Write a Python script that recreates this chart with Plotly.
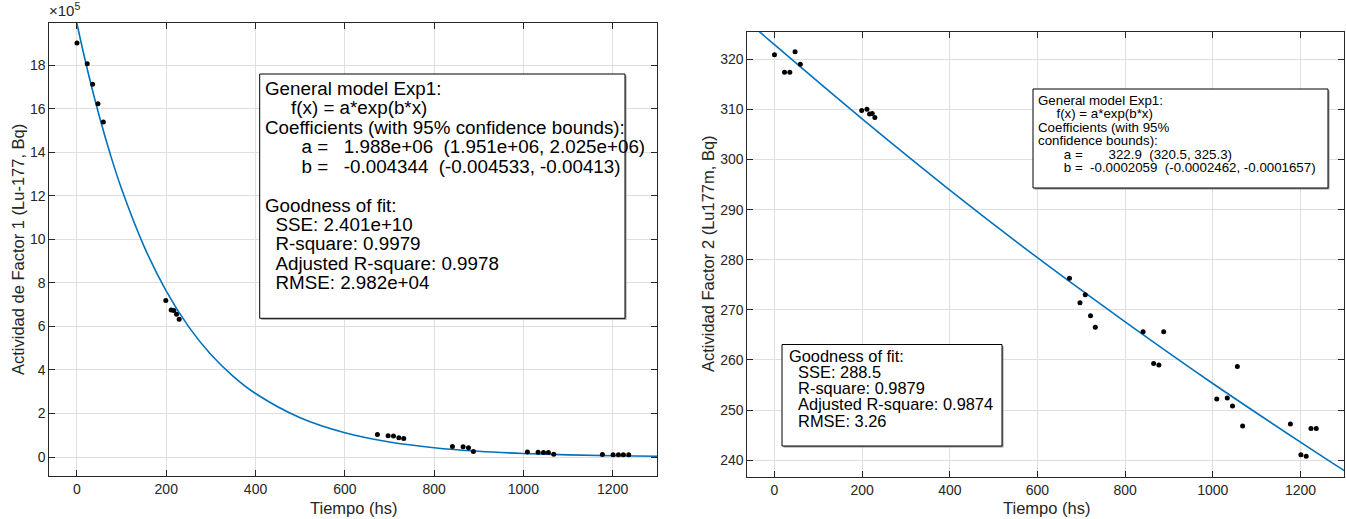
import plotly.graph_objects as go

W, H = 1346, 519
FONT = "Liberation Sans, Arial, Helvetica, sans-serif"
AX = "rgb(38,38,38)"
GRID = "rgb(223,223,223)"
BLUE = "#0072BD"

# ---- data ----
tiempo = [0, 23, 35, 47, 59, 199, 211, 217, 223, 229,
          673, 697, 709, 721, 732, 841, 865, 877, 888,
          1009, 1033, 1045, 1056, 1068, 1177, 1201, 1213, 1224, 1236]

factor1_bq = [19.02e5, 18.06e5, 17.12e5, 16.23e5, 15.39e5,
              7.19e5, 6.76e5, 6.73e5, 6.56e5, 6.33e5,
              1.04e5, 0.98e5, 0.97e5, 0.89e5, 0.85e5,
              0.48e5, 0.47e5, 0.43e5, 0.25e5,
              0.23e5, 0.22e5, 0.21e5, 0.21e5, 0.13e5,
              0.12e5, 0.11e5, 0.11e5, 0.11e5, 0.11e5]

factor2_bq = [320.9, 317.4, 317.4, 321.5, 319.0,
              309.8, 310.0, 309.1, 309.2, 308.4,
              276.3, 271.4, 273.0, 268.8, 266.5,
              265.6, 259.3, 259.0, 265.6,
              252.2, 252.4, 250.8, 258.7, 246.8,
              247.2, 241.1, 240.8, 246.3, 246.3]

# fitted curves as they are drawn in the picture
fit1_t = [-10, 0, 25, 50, 75, 100, 150, 200, 250, 300, 350, 400,
          500, 600, 700, 800, 900, 1000, 1100, 1200, 1300]
fit1_bq = [20.9e5, 19.9e5, 17.65e5, 15.65e5, 13.88e5, 12.31e5, 9.69e5,
           7.62e5, 5.99e5, 4.71e5, 3.71e5, 2.92e5, 1.805e5, 1.117e5,
           0.691e5, 0.428e5, 0.265e5, 0.164e5, 0.101e5, 0.063e5, 0.039e5]

fit2_t = [-62, 0, 200, 400, 600, 800, 1000, 1200, 1300]
fit2_bq = [327.6, 322.9, 308.1, 293.9, 280.4, 267.6, 255.3, 243.6, 237.9]

x_ticks = [0, 200, 400, 600, 800, 1000, 1200]
y1_ticks = [0, 2e5, 4e5, 6e5, 8e5, 10e5, 12e5, 14e5, 16e5, 18e5]
y1_ticklabels = ["0", "2", "4", "6", "8", "10", "12", "14", "16", "18"]
y2_ticks = [240, 250, 260, 270, 280, 290, 300, 310, 320]

box1_lines = ["General model Exp1:",
              "     f(x) = a*exp(b*x)",
              "Coefficients (with 95% confidence bounds):",
              "       a =   1.988e+06  (1.951e+06, 2.025e+06)",
              "       b =   -0.004344  (-0.004533, -0.00413)",
              "",
              "Goodness of fit:",
              "  SSE: 2.401e+10",
              "  R-square: 0.9979",
              "  Adjusted R-square: 0.9978",
              "  RMSE: 2.982e+04"]

box2_lines = ["General model Exp1:",
              "     f(x) = a*exp(b*x)",
              "Coefficients (with 95%",
              "confidence bounds):",
              "       a =       322.9  (320.5, 325.3)",
              "       b =  -0.0002059  (-0.0002462, -0.0001657)"]

box3_lines = ["Goodness of fit:",
              "  SSE: 288.5",
              "  R-square: 0.9879",
              "  Adjusted R-square: 0.9874",
              "  RMSE: 3.26"]

# ---- figure ----
fig = go.Figure()
fig.add_trace(go.Scatter(x=fit1_t, y=fit1_bq, mode="lines", line=dict(color=BLUE, width=1.6, shape="spline"),
                         xaxis="x", yaxis="y", showlegend=False))
fig.add_trace(go.Scatter(x=tiempo, y=factor1_bq, mode="markers", marker=dict(color="black", size=5),
                         xaxis="x", yaxis="y", showlegend=False))
fig.add_trace(go.Scatter(x=fit2_t, y=fit2_bq, mode="lines", line=dict(color=BLUE, width=1.6, shape="spline"),
                         xaxis="x2", yaxis="y2", showlegend=False))
fig.add_trace(go.Scatter(x=tiempo, y=factor2_bq, mode="markers", marker=dict(color="black", size=5),
                         xaxis="x2", yaxis="y2", showlegend=False))

def px_x(v):
    return v / W

def px_y(v):
    return 1 - v / H

axis_common = dict(showline=True, linecolor=AX, linewidth=1, mirror="ticks", ticks="inside",
                   ticklen=6, tickcolor=AX, showgrid=True, gridcolor=GRID, gridwidth=1,
                   zeroline=False, tickfont=dict(family=FONT, size=14, color=AX))

fig.update_layout(
    width=W, height=H, margin=dict(l=0, r=0, t=0, b=0),
    paper_bgcolor="white", plot_bgcolor="white",
    xaxis=dict(domain=[px_x(49.3), px_x(657.3)], range=[-62, 1300], tickvals=x_ticks,
               anchor="y", **axis_common),
    yaxis=dict(domain=[px_y(476), px_y(22.7)], range=[-0.87e5, 19.95e5], tickvals=y1_ticks,
               ticktext=y1_ticklabels, anchor="x", **axis_common),
    xaxis2=dict(domain=[px_x(747.3), px_x(1344.3)], range=[-62, 1300], tickvals=x_ticks,
                anchor="y2", **axis_common),
    yaxis2=dict(domain=[px_y(476.7), px_y(31.7)], range=[236.7, 325.5], tickvals=y2_ticks,
                anchor="x2", **axis_common),
)

shapes = []
annotations = []

def add_box(x0, y0, x1, y1):
    # soft shadow on the right/bottom edge, then the white box itself
    shapes.append(dict(type="rect", xref="paper", yref="paper", x0=px_x(x0 + 1.5), x1=px_x(x1 + 1.5),
                       y0=px_y(y1 + 1.5), y1=px_y(y0 + 1.5), line=dict(width=0),
                       fillcolor="rgb(150,150,150)", layer="above"))
    shapes.append(dict(type="rect", xref="paper", yref="paper", x0=px_x(x0), x1=px_x(x1),
                       y0=px_y(y1), y1=px_y(y0), line=dict(color="black", width=1),
                       fillcolor="white", layer="above"))

def add_lines(lines, x, first_center, spacing, size):
    for i, s in enumerate(lines):
        if not s:
            continue
        annotations.append(dict(x=px_x(x), y=px_y(first_center + i * spacing), xref="paper", yref="paper",
                                text=s.replace(" ", "\u00a0"), showarrow=False, xanchor="left",
                                yanchor="middle", borderpad=0,
                                font=dict(family=FONT, size=size, color="black")))

add_box(259.7, 74, 625, 318.3)
add_lines(box1_lines, 263.5, 88.3, 19.45, 18.8)
add_box(1033, 89, 1328, 188)
add_lines(box2_lines, 1037, 100.5, 13.45, 13.3)
add_box(782, 344.5, 1002, 446)
add_lines(box3_lines, 788, 355.5, 16.25, 16.4)

# axis titles and exponent label
title_font = dict(family=FONT, size=16.5, color=AX)
annotations.append(dict(x=px_x(353), y=px_y(508), xref="paper", yref="paper", text="Tiempo (hs)",
                        showarrow=False, font=title_font, xanchor="center", yanchor="middle"))
annotations.append(dict(x=px_x(1046), y=px_y(508), xref="paper", yref="paper", text="Tiempo (hs)",
                        showarrow=False, font=title_font, xanchor="center", yanchor="middle"))
annotations.append(dict(x=px_x(18), y=px_y(250), xref="paper", yref="paper",
                        text="Actividad de Factor 1 (Lu-177, Bq)", textangle=-90,
                        showarrow=False, font=title_font, xanchor="center", yanchor="middle"))
annotations.append(dict(x=px_x(708), y=px_y(254), xref="paper", yref="paper",
                        text="Actividad Factor 2 (Lu177m, Bq)", textangle=-90,
                        showarrow=False, font=title_font, xanchor="center", yanchor="middle"))
annotations.append(dict(x=px_x(48), y=px_y(20), xref="paper", yref="paper",
                        text="×10<sup>5</sup>", showarrow=False, xanchor="left", yanchor="bottom",
                        borderpad=0, font=dict(family=FONT, size=15, color=AX)))

fig.update_layout(shapes=shapes, annotations=annotations)
fig.write_html("out.html")
